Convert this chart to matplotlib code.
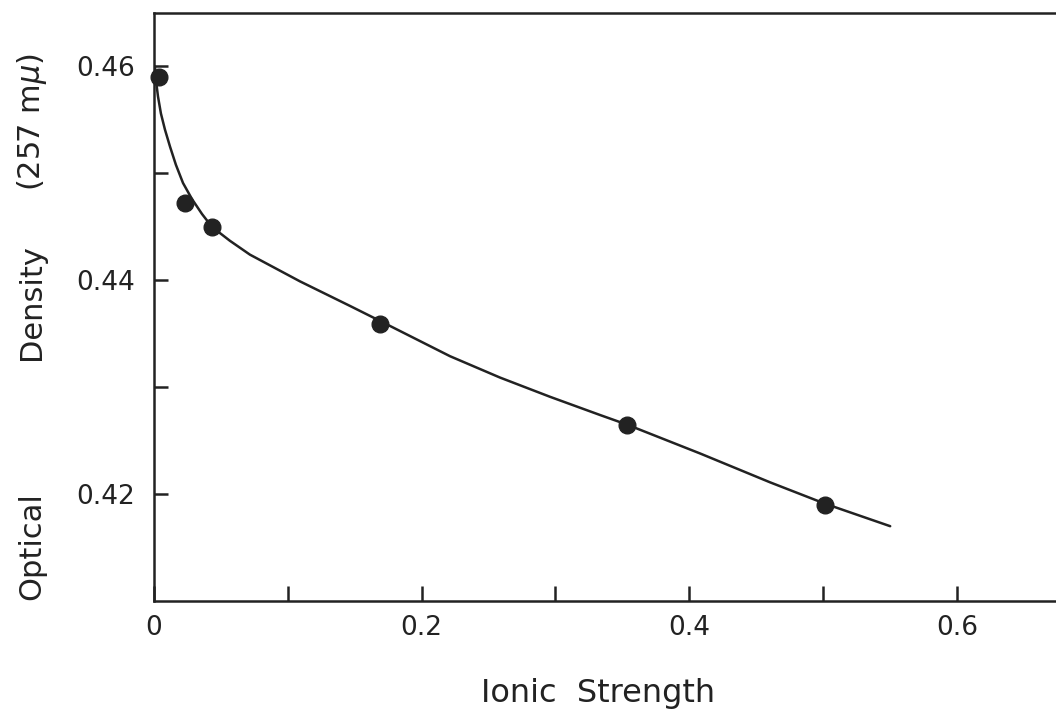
import matplotlib.pyplot as plt
from matplotlib.ticker import FixedLocator

# measured points
ionic = [0.0037, 0.0232, 0.0433, 0.169, 0.3535, 0.5015]
od = [0.4590, 0.4472, 0.4450, 0.4359, 0.4265, 0.4190]

# hand drawn curve
curve_x = [0.00075, 0.0015, 0.0030, 0.0052, 0.0082, 0.0120, 0.0164, 0.0217, 0.0284,
           0.0359, 0.0433, 0.0567, 0.0717, 0.1091, 0.1465, 0.1689, 0.2212, 0.2586,
           0.2960, 0.3333, 0.3535, 0.4081, 0.4604, 0.5015, 0.5501]
curve_y = [0.4600, 0.4587, 0.4572, 0.4556, 0.4541, 0.4525, 0.4508, 0.4491, 0.4476,
           0.4462, 0.4450, 0.4437, 0.4424, 0.4399, 0.4376, 0.4362, 0.4329, 0.4309,
           0.4291, 0.4274, 0.4265, 0.4238, 0.4211, 0.4191, 0.4170]

xticks_major = [0, 0.2, 0.4, 0.6]
xtick_labels = ["0", "0.2", "0.4", "0.6"]
yticks_major = [0.42, 0.44, 0.46]
ytick_labels = ["0.42", "0.44", "0.46"]

ink = "#222222"
plt.rcParams['font.family'] = ['DejaVu Sans']

fig = plt.figure(figsize=(10.56, 7.15), dpi=100)
ax = fig.add_axes([0.1458, 0.1594, 0.8542, 0.8224])

ax.plot(curve_x, curve_y, color=ink, lw=1.8, solid_capstyle='round', solid_joinstyle='round')
ax.plot(ionic, od, 'o', color=ink, markersize=12, clip_on=False)

ax.set_xlim(0, 0.674)
ax.set_ylim(0.4100, 0.4650)

ax.set_xticks(xticks_major)
ax.set_xticklabels(xtick_labels)
ax.xaxis.set_minor_locator(FixedLocator([0.1, 0.3, 0.5]))
ax.set_yticks(yticks_major)
ax.set_yticklabels(ytick_labels)
ax.yaxis.set_minor_locator(FixedLocator([0.43, 0.45]))

ax.tick_params(which='both', direction='in', color=ink, width=1.8, labelcolor=ink,
               labelsize=19)
ax.tick_params(axis='x', which='both', length=11, pad=10)
ax.tick_params(axis='y', which='both', length=10, pad=14)

for s in ['left', 'bottom', 'top']:
    ax.spines[s].set_linewidth(1.8)
    ax.spines[s].set_color(ink)
ax.spines['right'].set_visible(False)

fig.text(0.566, 0.018, "Ionic  Strength", ha='center', va='baseline', fontsize=23, color=ink)

fig.text(0.030, 0.236, "Optical", rotation=90, ha='center', va='center', fontsize=22, color=ink)
fig.text(0.030, 0.578, "Density", rotation=90, ha='center', va='center', fontsize=22, color=ink)
fig.text(0.030, 0.829, "(257 m$\\mu$)", rotation=90, ha='center', va='center', fontsize=22, color=ink)

fig.savefig("out.png", dpi=100)
